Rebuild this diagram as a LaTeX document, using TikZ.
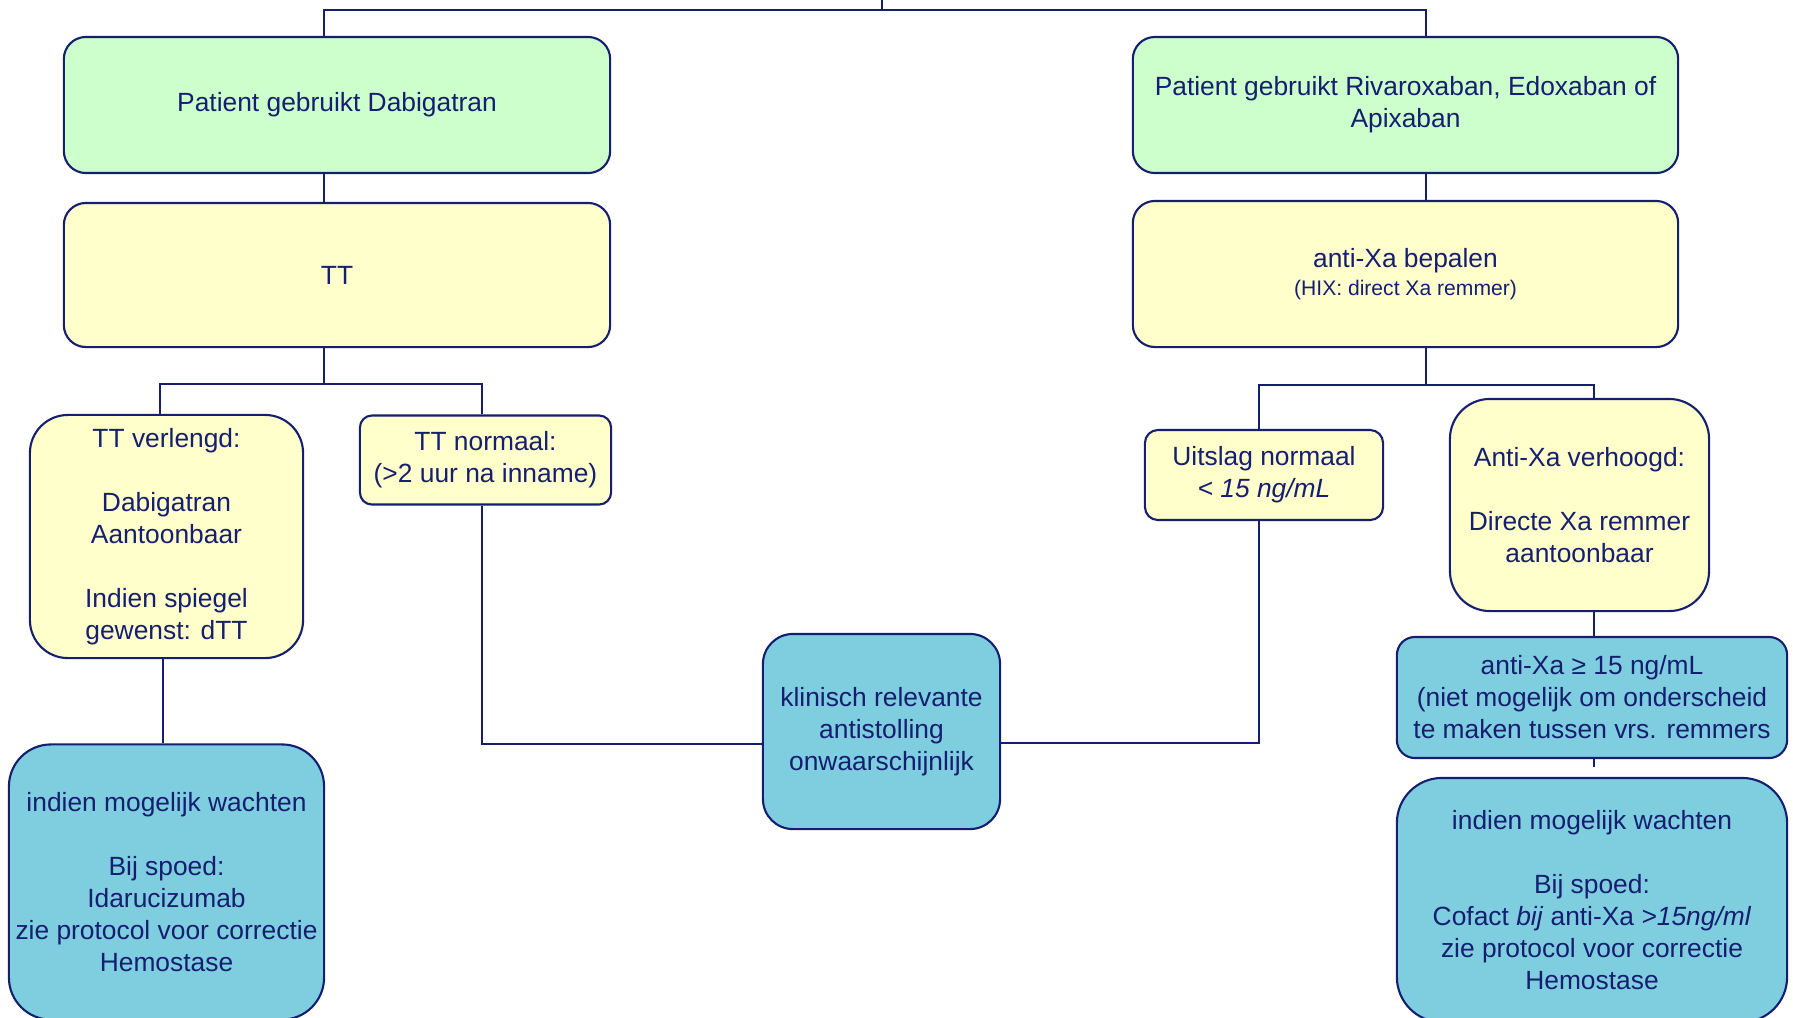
\documentclass[tikz,border=0pt]{standalone}
\usepackage{fontspec}
\setmainfont{Liberation Sans}
\usepackage{tikz}
\usetikzlibrary{positioning}
\usetikzlibrary{calc}

\definecolor{navy}{RGB}{22,30,112}
\definecolor{groen}{RGB}{204,255,204}
\definecolor{geel}{RGB}{255,255,204}
\definecolor{blauw}{RGB}{126,206,224}

\begin{document}
\begin{tikzpicture}[x=0.01cm, y=-0.01cm,
        every node/.style={font=\fontsize{7.5}{9.1}\selectfont, text=navy},
        box/.style={rectangle, draw=navy, line width=0.6pt, align=center, inner sep=0pt},
        gbox/.style={box, fill=groen},
        ybox/.style={box, fill=geel},
        bbox/.style={box, fill=blauw},
        lijn/.style={draw=navy, line width=0.6pt}]
        \clip (0,0) rectangle (1793,1017);

        % DOAC soort
        \node[gbox, rounded corners=0.22cm, minimum width=5.46cm, minimum height=1.36cm] (dabi) at (337,105)
            {Patient gebruikt Dabigatran};
        \node[gbox, rounded corners=0.22cm, minimum width=5.45cm, minimum height=1.36cm] (rivaro) at (1405.5,105)
            {Patient gebruikt Rivaroxaban, Edoxaban of\\Apixaban};

        % bepalingen
        \node[ybox, rounded corners=0.22cm, minimum width=5.46cm, minimum height=1.44cm] (tt) at (337,275) {TT};
        \node[ybox, rounded corners=0.22cm, minimum width=5.45cm, minimum height=1.46cm] (antixa) at (1405.5,274)
            {anti-Xa bepalen\\[-1pt]{\fontsize{6}{7.2}\selectfont (HIX: direct Xa remmer)}};

        % uitslagen
        \node[ybox, rounded corners=0.38cm, minimum width=2.73cm, minimum height=2.43cm] (verlengd) at (166.5,536.5)
            {TT verlengd:\\[9.1pt]Dabigatran\\Aantoonbaar\\[9.1pt]Indien spiegel\\gewenst: dTT};
        \node[ybox, rounded corners=0.12cm, minimum width=2.51cm, minimum height=0.89cm] (normaal) at (485.5,460)
            {TT normaal:\\(>2 uur na inname)};
        \node[ybox, rounded corners=0.13cm, minimum width=2.38cm, minimum height=0.90cm] (uitslag) at (1264,475)
            {Uitslag normaal\\\textit{< 15 ng/mL}};
        \node[ybox, rounded corners=0.4cm, minimum width=2.59cm, minimum height=2.12cm] (verhoogd) at (1579.5,505)
            {Anti-Xa verhoogd:\\[9.1pt]Directe Xa remmer\\aantoonbaar};

        % acties
        \node[bbox, rounded corners=0.3cm, minimum width=2.37cm, minimum height=1.95cm] (klinisch) at (881.5,731.5)
            {klinisch relevante\\antistolling\\onwaarschijnlijk};
        \node[bbox, rounded corners=0.18cm, minimum width=3.90cm, minimum height=1.21cm] (hoog) at (1592,697.5)
            {anti-Xa ≥ 15 ng/mL\\(niet mogelijk om onderscheid\\te maken tussen vrs. remmers};
        \node[bbox, rounded corners=0.42cm, minimum width=3.15cm, minimum height=2.75cm] (wacht) at (166.5,882)
            {indien mogelijk wachten\\[9.1pt]Bij spoed:\\Idarucizumab\\zie protocol voor correctie\\Hemostase};
        \node[bbox, rounded corners=0.45cm, minimum width=3.90cm, minimum height=2.44cm] (cofact) at (1592,900)
            {indien mogelijk wachten\\[9.1pt]Bij spoed:\\Cofact \textit{bij} anti-Xa \textit{>15ng/ml}\\zie protocol voor correctie\\Hemostase};

        % verbindingen
        \coordinate (top) at (882,0);
        \coordinate (tl) at (324,10);
        \coordinate (tr) at (1426,10);
        \coordinate (bl1) at (160,384);
        \coordinate (bl2) at (482,384);
        \coordinate (br1) at (1259,385);
        \coordinate (br2) at (1594,385);
        \coordinate (kl) at (482,744);
        \coordinate (kr) at (1259,743);
        \coordinate (stub) at (1594,767);

        \draw[lijn] (top) -- (top |- tl);
        \draw[lijn] (dabi.north -| tl) -- (tl) -- (tr) -- (rivaro.north -| tr);
        \draw[lijn] (dabi.south -| tl) -- (tt.north -| tl);
        \draw[lijn] (rivaro.south -| tr) -- (antixa.north -| tr);
        \draw[lijn] (tt.south -| tl) -- (tl |- bl1);
        \draw[lijn] (verlengd.north -| bl1) -- (bl1) -- (bl2) -- (normaal.north -| bl2);
        \draw[lijn] (antixa.south -| tr) -- (tr |- br1);
        \draw[lijn] (uitslag.north -| br1) -- (br1) -- (br2) -- (verhoogd.north -| br2);
        \draw[lijn] ([xshift=-0.035cm]verlengd.south) -- ([xshift=-0.035cm]verlengd.south |- wacht.north);
        \draw[lijn] (normaal.south -| kl) -- (kl) -- (kl -| klinisch.west);
        \draw[lijn] (uitslag.south -| kr) -- (kr) -- (kr -| klinisch.east);
        \draw[lijn] (verhoogd.south -| br2) -- (hoog.north -| br2);
        \draw[lijn] (hoog.south -| stub) -- (stub);

    \end{tikzpicture}
\end{document}
